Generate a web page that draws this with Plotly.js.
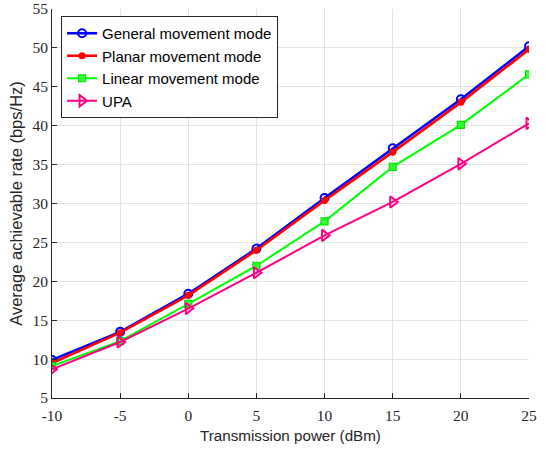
<!DOCTYPE html>
<html>
<head>
<meta charset="utf-8">
<script src="https://cdn.plot.ly/plotly-3.0.1.min.js"></script>
<style>html,body{margin:0;padding:0;background:#fff;}#chart{width:546px;height:450px;}</style>
</head>
<body>
<div id="chart"></div>
<script>
const powerDbm = [-10, -5, 0, 5, 10, 15, 20, 25];
const generalMode = [9.9, 13.5, 18.4, 24.2, 30.7, 37.1, 43.4, 50.2];
const planarMode = [9.5, 13.4, 18.2, 24.0, 30.4, 36.6, 43.0, 49.8];
const linearMode = [9.1, 12.3, 17.1, 22.0, 27.7, 34.7, 40.1, 46.6];
const upaMode = [8.7, 12.2, 16.5, 21.1, 25.9, 30.2, 35.1, 40.3];
const seriesNames = ['General movement mode', 'Planar movement mode', 'Linear movement mode', 'UPA'];
const xTicks = [-10, -5, 0, 5, 10, 15, 20, 25];
const yTicks = [5, 10, 15, 20, 25, 30, 35, 40, 45, 50, 55];

const traces = [
  {x: powerDbm, y: generalMode, name: seriesNames[0], mode: 'lines+markers',
   line: {color: '#0000ff', width: 2.6},
   marker: {symbol: 'circle-open', size: 8, color: '#0000ff', line: {width: 2, color: '#0000ff'}}},
  {x: powerDbm, y: planarMode, name: seriesNames[1], mode: 'lines+markers',
   line: {color: '#ff0000', width: 2.6},
   marker: {symbol: 'circle', size: 7, color: '#ff0000'}},
  {x: powerDbm, y: linearMode, name: seriesNames[2], mode: 'lines+markers',
   line: {color: '#00ff00', width: 2},
   marker: {symbol: 'square', size: 7, color: '#33ff33', line: {width: 1.2, color: '#00e000'}}},
  {x: powerDbm, y: upaMode, name: seriesNames[3], mode: 'lines+markers',
   line: {color: '#ff0080', width: 2},
   marker: {symbol: 'triangle-right-open', size: 10, color: '#ff0080', line: {width: 2, color: '#ff0080'}}}
];

const tickFont = {family: 'Liberation Serif, Times New Roman, serif', size: 15.5, color: '#262626'};

const layout = {
  width: 546, height: 450,
  margin: {l: 51.5, r: 16.5, t: 9, b: 51.5, pad: 0},
  paper_bgcolor: '#ffffff', plot_bgcolor: '#ffffff',
  showlegend: true,
  legend: {
    x: 0.019, y: 0.982, xanchor: 'left', yanchor: 'top',
    bgcolor: '#ffffff', bordercolor: '#262626', borderwidth: 1,
    font: {family: 'Liberation Sans, Arial, sans-serif', size: 15, color: '#000'},
    tracegroupgap: 0, itemwidth: 30
  },
  xaxis: {
    range: [-10, 25], tickvals: xTicks, ticktext: xTicks.map(String),
    showgrid: true, gridcolor: '#e3e3e3', gridwidth: 1,
    showline: true, linecolor: '#262626', linewidth: 1, mirror: false,
    ticks: 'inside', ticklen: 5, tickcolor: '#262626', zeroline: false,
    ticklabelstandoff: 3, ticklabeloverflow: 'allow',
    tickfont: tickFont,
    title: {text: 'Transmission power (dBm)', standoff: 7,
            font: {family: 'Liberation Sans, Arial, sans-serif', size: 15.2, color: '#262626'}}
  },
  yaxis: {
    range: [5, 55], tickvals: yTicks, ticktext: yTicks.map(String),
    showgrid: true, gridcolor: '#e3e3e3', gridwidth: 1,
    showline: true, linecolor: '#262626', linewidth: 1, mirror: false,
    ticks: 'inside', ticklen: 5, tickcolor: '#262626', zeroline: false,
    ticklabeloverflow: 'allow',
    tickfont: tickFont,
    title: {text: 'Average achievable rate (bps/Hz)', standoff: 5,
            font: {family: 'Liberation Sans, Arial, sans-serif', size: 16.5, color: '#262626'}}
  }
};

Plotly.newPlot('chart', traces, layout, {displayModeBar: false, staticPlot: true});
</script>
</body>
</html>
